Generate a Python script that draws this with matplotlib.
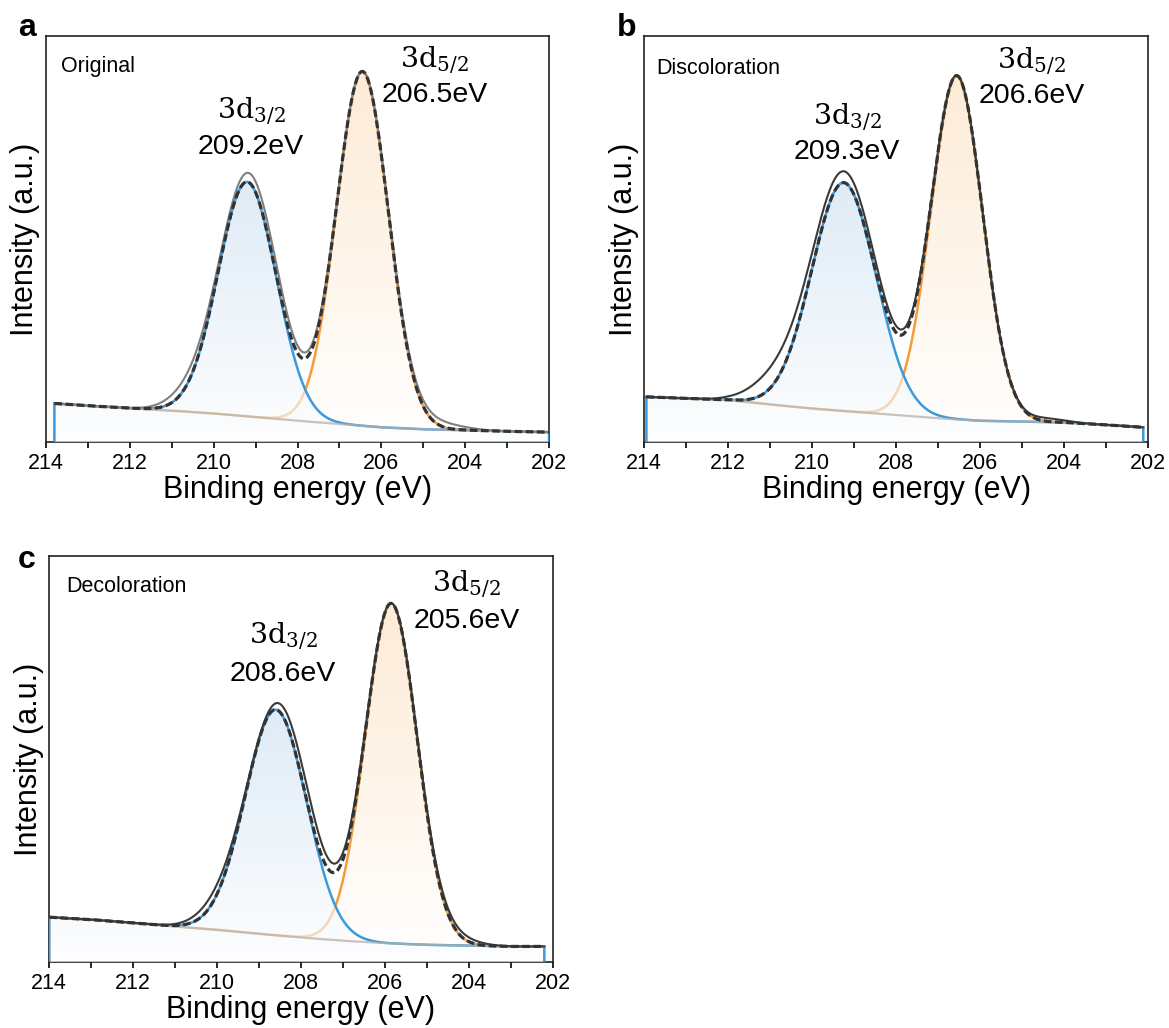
import numpy as np
import matplotlib
matplotlib.use('Agg')
import matplotlib.pyplot as plt
from matplotlib.colors import LinearSegmentedColormap
from matplotlib.ticker import MultipleLocator

plt.rcParams['font.family'] = ['Liberation Sans', 'DejaVu Sans']
plt.rcParams['mathtext.fontset'] = 'dejavuserif'

# panel names / sample labels
panels = ['a', 'b', 'c']
samples = ['Original', 'Discoloration', 'Decoloration']

# measured energy range of each scan (eV)
scan_start = [213.8, 213.95, 214.0]
scan_end = [202.0, 202.12, 202.2]

# background (Shirley) read at 1 eV steps, % of axis height
bkg_energy = [214, 213, 212, 211, 210, 209, 208, 207, 206, 205, 204, 203, 202]
bkg_a = [9.7, 9.0, 8.4, 7.8, 7.1, 6.2, 5.3, 4.5, 3.7, 3.2, 3.0, 2.7, 2.5]
bkg_b = [11.2, 10.8, 10.4, 9.3, 8.3, 7.5, 6.7, 5.9, 5.3, 5.1, 4.9, 4.3, 3.6]
bkg_c = [11.1, 10.5, 9.7, 8.8, 8.0, 7.0, 6.1, 5.3, 4.7, 4.3, 4.1, 3.9, 3.9]

# fitted components: 3d3/2 and 3d5/2 (center eV, height %, fwhm eV)
fit_center_a = [209.2, 206.45]
fit_height_a = [57.7, 87.2]
fit_fwhm_a = [1.63, 1.46]
fit_center_b = [209.25, 206.56]
fit_height_b = [56.2, 84.5]
fit_fwhm_b = [1.80, 1.45]
fit_center_c = [208.6, 205.85]
fit_height_c = [55.5, 83.6]
fit_fwhm_c = [1.72, 1.46]

# raw spectrum described by its peaks (incl. small shoulders)
raw_center_a = [209.18, 206.45, 210.6, 204.7]
raw_height_a = [59.9, 87.2, 2.5, 1.5]
raw_fwhm_a = [1.65, 1.47, 1.2, 1.4]
raw_center_b = [209.25, 206.56, 210.9, 204.4]
raw_height_b = [58.9, 84.5, 4.5, 0.8]
raw_fwhm_b = [1.84, 1.45, 1.4, 1.0]
raw_center_c = [208.55, 205.85, 209.9, 204.3]
raw_height_c = [57.0, 83.6, 3.0, 1.2]
raw_fwhm_c = [1.74, 1.47, 1.3, 1.2]

labels_3d = [r'$\mathrm{3d}_{3/2}$', r'$\mathrm{3d}_{5/2}$']
peak_text_a = ['209.2eV', '206.5eV']
peak_text_b = ['209.3eV', '206.6eV']
peak_text_c = ['208.6eV', '205.6eV']

bkgs = [bkg_a, bkg_b, bkg_c]
fits = [(fit_center_a, fit_height_a, fit_fwhm_a),
        (fit_center_b, fit_height_b, fit_fwhm_b),
        (fit_center_c, fit_height_c, fit_fwhm_c)]
raws = [(raw_center_a, raw_height_a, raw_fwhm_a),
        (raw_center_b, raw_height_b, raw_fwhm_b),
        (raw_center_c, raw_height_c, raw_fwhm_c)]
peak_texts = [peak_text_a, peak_text_b, peak_text_c]
raw_colors = ['#808080', '#3a3a3a', '#3a3a3a']

# label positions (x eV, y % of line 1, y % of line 2) for [3d3/2, 3d5/2]
label_pos = [[(209.11, 81.2, 72.6), (204.73, 93.8, 85.4)],
             [(209.17, 79.8, 71.4), (204.78, 93.5, 85.2)],
             [(208.43, 80.0, 70.8), (204.05, 92.7, 84.0)]]
sample_xy = [(0.030, 0.925), (0.023, 0.92), (0.033, 0.925)]

rects = [[46 / 1169, 1 - 442.3 / 1028, 503 / 1169, 406.3 / 1028],
         [644.3 / 1169, 1 - 442.3 / 1028, 504 / 1169, 406.3 / 1028],
         [49.3 / 1169, 1 - 962.3 / 1028, 503.4 / 1169, 406.6 / 1028]]
letter_xy = [(27, 28), (627, 28), (27, 560)]


def gauss(x, c, h, w):
    return h * np.exp(-4 * np.log(2) * ((x - c) / w) ** 2)


def grad_fill(ax, x, y, cols, alpha, z):
    poly = ax.fill_between(x, 0, y, facecolor='none', edgecolor='none')
    cmap = LinearSegmentedColormap.from_list('g', cols)
    im = ax.imshow(np.linspace(0, 1, 256).reshape(-1, 1), cmap=cmap, aspect='auto',
                   extent=(x[0], x[-1], 0, y.max()), origin='lower', alpha=alpha, zorder=z)
    im.set_clip_path(poly.get_paths()[0], transform=ax.transData)


fig = plt.figure(figsize=(11.69, 10.28), dpi=100)

for i in range(3):
    ax = fig.add_axes(rects[i])
    x = np.linspace(scan_start[i], scan_end[i], 600)
    bk = np.interp(x, bkg_energy[::-1], bkgs[i][::-1])
    cen, hei, fw = fits[i]
    c1 = gauss(x, cen[0], hei[0], fw[0])
    c2 = gauss(x, cen[1], hei[1], fw[1])
    env = bk + c1 + c2
    raw = bk.copy()
    for c, h, w in zip(*raws[i]):
        raw = raw + gauss(x, c, h, w)

    y_or = bk + c2
    y_bl = bk + c1
    grad_fill(ax, x, y_or, ['#ffffff', '#fdebd6'], 1.0, 1)
    ax.plot(x, y_or, color='#f49b3a', lw=1.8, zorder=2)
    grad_fill(ax, x, y_bl, ['#fdfeff', '#cde0f1'], 0.65, 3)
    xb = np.concatenate([[x[0]], x, [x[-1]]])
    yb = np.concatenate([[0], y_bl, [0]])
    ax.plot(xb, yb, color='#3d9ad8', lw=1.8, zorder=4)
    ax.plot(x, bk, color='#b8b0a8', lw=1.6, alpha=0.75, zorder=5)
    ax.plot(x, raw, color=raw_colors[i], lw=1.5, zorder=6)
    ax.plot(x, env, color='#333333', lw=2.3, ls=(0, (2.4, 1.1)), zorder=7)

    for k in range(2):
        px, py1, py2 = label_pos[i][k]
        ax.text(px, py1, labels_3d[k], fontsize=20.5, ha='center', va='center', zorder=10)
        ax.text(px, py2, peak_texts[i][k], fontsize=20.5, ha='center', va='center', zorder=10)
    ax.text(sample_xy[i][0], sample_xy[i][1], samples[i], transform=ax.transAxes,
            fontsize=15.5, ha='left', va='center')

    ax.set_xlim(214, 202)
    ax.set_ylim(0, 100)
    ax.xaxis.set_major_locator(MultipleLocator(2))
    ax.xaxis.set_minor_locator(MultipleLocator(1))
    ax.tick_params(axis='x', which='both', direction='out', length=4.5, width=1.2,
                   labelsize=15.5, pad=3)
    ax.set_yticks([])
    for s in ax.spines.values():
        s.set_linewidth(1.2)
        s.set_color('#222222')
    ax.set_xlabel('Binding energy (eV)', fontsize=22, labelpad=1)
    ax.set_ylabel('Intensity (a.u.)', fontsize=22, labelpad=4)

    lx, ly = letter_xy[i]
    fig.text(lx / 1169, 1 - ly / 1028, panels[i], fontsize=23, fontweight='bold',
             ha='center', va='center')

fig.savefig('out.png', dpi=100)
